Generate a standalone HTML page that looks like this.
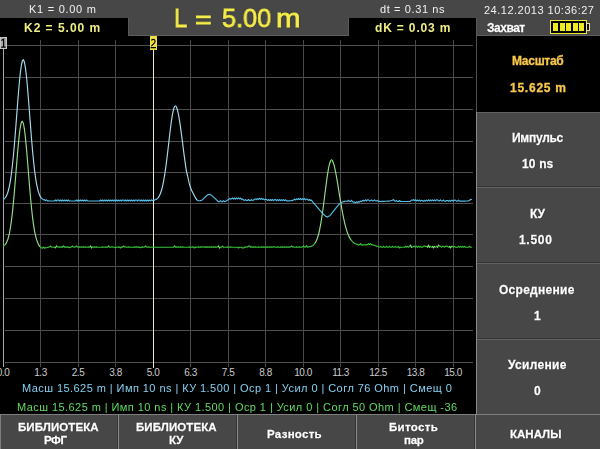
<!DOCTYPE html>
<html><head><meta charset="utf-8"><style>
*{margin:0;padding:0;box-sizing:border-box}
html,body{width:600px;height:449px;overflow:hidden;background:#000}
body{position:relative;font-family:"Liberation Sans",sans-serif}
.t{position:absolute;white-space:pre;will-change:transform}
.abs{position:absolute}
.ax{position:absolute;top:368px;width:60px;text-align:center;font-size:10px;line-height:10px;letter-spacing:-0.5px;color:#cccccc}
</style></head><body>
<div class=abs style="left:0;top:0;width:600px;height:36px;background:#474747"></div>
<div class=abs style="left:0;top:35px;width:600px;height:1px;background:#5e5e5e"></div>
<div class=abs style="left:0;top:18px;width:128px;height:18px;background:#000"></div>
<div class=abs style="left:349px;top:18px;width:127px;height:18px;background:#000"></div>
<div class=abs style="left:128px;top:18px;width:1px;height:18px;background:#585858"></div>
<div class=abs style="left:348px;top:18px;width:1px;height:18px;background:#585858"></div>
<div class=abs style="left:476px;top:18px;width:1px;height:18px;background:#585858"></div>
<div class=abs style="left:476px;top:36px;width:124px;height:378px;background:#474747"></div>
<div class=abs style="left:477px;top:36px;width:123px;height:76px;background:#000"></div>
<div class=abs style="left:476px;top:36px;width:1px;height:76px;background:#505050"></div>
<div class=abs style="left:476px;top:112px;width:1px;height:302px;background:#8a8a8a"></div>
<div class=abs style="left:477px;top:186px;width:123px;height:1px;background:#333"></div>
<div class=abs style="left:477px;top:112px;width:123px;height:1px;background:#626262"></div>
<div class=abs style="left:477px;top:187px;width:123px;height:1px;background:#626262"></div>
<div class=abs style="left:477px;top:262px;width:123px;height:1px;background:#333"></div>
<div class=abs style="left:477px;top:263px;width:123px;height:1px;background:#626262"></div>
<div class=abs style="left:477px;top:338px;width:123px;height:1px;background:#333"></div>
<div class=abs style="left:477px;top:339px;width:123px;height:1px;background:#626262"></div>
<div class=abs style="left:0;top:414px;width:600px;height:35px;background:#474747"></div>
<div class=abs style="left:0;top:414px;width:600px;height:1px;background:#7e7e7e"></div>
<div class=abs style="left:0;top:414px;width:1px;height:35px;background:#7e7e7e"></div>
<div class=abs style="left:117px;top:415px;width:1px;height:34px;background:#333"></div>
<div class=abs style="left:118px;top:414px;width:1px;height:35px;background:#8a8a8a"></div>
<div class=abs style="left:236px;top:415px;width:1px;height:34px;background:#333"></div>
<div class=abs style="left:237px;top:414px;width:1px;height:35px;background:#8a8a8a"></div>
<div class=abs style="left:355px;top:415px;width:1px;height:34px;background:#333"></div>
<div class=abs style="left:356px;top:414px;width:1px;height:35px;background:#8a8a8a"></div>
<div class=abs style="left:474px;top:415px;width:1px;height:34px;background:#333"></div>
<div class=abs style="left:475px;top:414px;width:1px;height:35px;background:#8a8a8a"></div>
<svg class=abs style="left:0;top:0" width="600" height="449">
<rect x="5" y="45" width="468" height="1" fill="#505050"/><rect x="5" y="77" width="468" height="1" fill="#505050"/><rect x="5" y="109" width="468" height="1" fill="#505050"/><rect x="5" y="141" width="468" height="1" fill="#505050"/><rect x="5" y="172" width="468" height="1" fill="#505050"/><rect x="5" y="203" width="468" height="1" fill="#505050"/><rect x="5" y="234" width="468" height="1" fill="#505050"/><rect x="5" y="266" width="468" height="1" fill="#505050"/><rect x="5" y="298" width="468" height="1" fill="#505050"/><rect x="5" y="330" width="468" height="1" fill="#505050"/><rect x="5" y="362" width="468" height="1" fill="#505050"/><rect x="40" y="40" width="1" height="327" fill="#484848"/><rect x="78" y="40" width="1" height="327" fill="#484848"/><rect x="115" y="40" width="1" height="327" fill="#484848"/><rect x="190" y="40" width="1" height="327" fill="#484848"/><rect x="228" y="40" width="1" height="327" fill="#484848"/><rect x="265" y="40" width="1" height="327" fill="#484848"/><rect x="303" y="40" width="1" height="327" fill="#484848"/><rect x="340" y="40" width="1" height="327" fill="#484848"/><rect x="378" y="40" width="1" height="327" fill="#484848"/><rect x="415" y="40" width="1" height="327" fill="#484848"/><rect x="453" y="40" width="1" height="327" fill="#484848"/>
<rect x="3" y="49" width="1" height="318" fill="#a8a8a8"/>
<rect x="153" y="50" width="1" height="318" fill="#f4ecc0"/>
<path d="M3.5,246.0L4.5,245.3M4.5,245.3L5.5,244.2M21.5,122.0L22.5,121.4M39.5,246.1L40.5,247.2M40.5,247.2L41.5,247.9M41.5,247.9L42.5,248.1M42.5,248.1L43.5,247.2M43.5,247.2L44.5,248.2M44.5,248.2L45.5,247.7M45.5,247.7L46.5,247.7M46.5,247.7L47.5,247.5M47.5,247.5L48.5,247.1M48.5,247.1L49.5,247.0M49.5,247.0L50.5,246.1M50.5,246.1L51.5,247.0M51.5,247.0L52.5,247.2M52.5,247.2L53.5,247.0M53.5,247.0L54.5,247.2M54.5,247.2L55.5,247.7M56.5,246.0L57.5,246.9M57.5,246.9L58.5,247.2M58.5,247.2L59.5,246.9M59.5,246.9L60.5,247.2M60.5,247.2L61.5,246.9M61.5,246.9L62.5,247.2M62.5,247.2L63.5,245.8M63.5,245.8L64.5,247.2M64.5,247.2L65.5,246.9M65.5,246.9L66.5,247.2M66.5,247.2L67.5,246.9M67.5,246.9L68.5,247.2M68.5,247.2L69.5,247.7M69.5,247.7L70.5,247.2M70.5,247.2L71.5,246.9M71.5,246.9L72.5,246.0M72.5,246.0L73.5,246.9M73.5,246.9L74.5,247.2M74.5,247.2L75.5,246.9M75.5,246.9L76.5,246.0M76.5,246.0L77.5,246.9M77.5,246.9L78.5,247.2M78.5,247.2L79.5,246.9M79.5,246.9L80.5,247.2M80.5,247.2L81.5,246.9M81.5,246.9L82.5,247.2M82.5,247.2L83.5,246.9M83.5,246.9L84.5,247.2M84.5,247.2L85.5,246.9M85.5,246.9L86.5,247.2M86.5,247.2L87.5,247.2M87.5,247.2L88.5,246.9M88.5,246.9L89.5,247.2M89.5,247.2L90.5,246.0M91.5,247.8L92.5,246.9M92.5,246.9L93.5,247.2M93.5,247.2L94.5,246.9M94.5,246.9L95.5,247.2M95.5,247.2L96.5,246.9M96.5,246.9L97.5,247.2M97.5,247.2L98.5,247.2M98.5,247.2L99.5,247.2M99.5,247.2L100.5,247.2M100.5,247.2L101.5,247.2M101.5,247.2L102.5,246.9M102.5,246.9L103.5,247.2M103.5,247.2L104.5,247.2M104.5,247.2L105.5,246.9M105.5,246.9L106.5,247.2M106.5,247.2L107.5,247.2M107.5,247.2L108.5,245.8M108.5,245.8L109.5,247.2M109.5,247.2L110.5,247.2M110.5,247.2L111.5,246.9M111.5,246.9L112.5,246.9M112.5,246.9L113.5,247.2M113.5,247.2L114.5,247.2M114.5,247.2L115.5,247.8M115.5,247.8L116.5,247.2M116.5,247.2L117.5,247.2M117.5,247.2L118.5,246.9M118.5,246.9L119.5,247.2M119.5,247.2L120.5,248.0M120.5,248.0L121.5,246.9M121.5,246.9L122.5,247.2M122.5,247.2L123.5,246.0M123.5,246.0L124.5,246.9M124.5,246.9L125.5,246.9M125.5,246.9L126.5,247.2M126.5,247.2L127.5,247.2M127.5,247.2L128.5,246.9M128.5,246.9L129.5,247.2M129.5,247.2L130.5,247.2M130.5,247.2L131.5,247.2M131.5,247.2L132.5,247.2M132.5,247.2L133.5,247.2M133.5,247.2L134.5,246.9M134.5,246.9L135.5,247.2M135.5,247.2L136.5,246.9M136.5,246.9L137.5,247.2M137.5,247.2L138.5,246.9M138.5,246.9L139.5,247.2M139.5,247.2L140.5,247.8M140.5,247.8L141.5,247.2M141.5,247.2L142.5,246.9M142.5,246.9L143.5,247.2M143.5,247.2L144.5,246.9M144.5,246.9L145.5,246.0M145.5,246.0L146.5,246.9M146.5,246.9L147.5,247.2M147.5,247.2L148.5,246.9M148.5,246.9L149.5,247.2M149.5,247.2L150.5,247.2M150.5,247.2L151.5,247.2M151.5,247.2L152.5,247.2M152.5,247.2L153.5,247.2M153.5,247.2L154.5,247.2M154.5,247.2L155.5,247.2M155.5,247.2L156.5,247.2M156.5,247.2L157.5,247.2M157.5,247.2L158.5,247.2M158.5,247.2L159.5,247.2M159.5,247.2L160.5,247.2M160.5,247.2L161.5,247.2M161.5,247.2L162.5,247.2M162.5,247.2L163.5,247.2M163.5,247.2L164.5,247.2M164.5,247.2L165.5,247.2M165.5,247.2L166.5,247.2M166.5,247.2L167.5,247.2M167.5,247.2L168.5,247.2M168.5,247.2L169.5,247.2M169.5,247.2L170.5,247.2M170.5,247.2L171.5,247.2M171.5,247.2L172.5,247.2M172.5,247.2L173.5,247.2M173.5,247.2L174.5,245.8M174.5,245.8L175.5,247.2M175.5,247.2L176.5,246.9M176.5,246.9L177.5,247.2M177.5,247.2L178.5,246.9M178.5,246.9L179.5,247.2M179.5,247.2L180.5,246.9M180.5,246.9L181.5,247.2M181.5,247.2L182.5,246.9M182.5,246.9L183.5,247.2M183.5,247.2L184.5,247.2M184.5,247.2L185.5,247.2M185.5,247.2L186.5,247.2M186.5,247.2L187.5,247.2M187.5,247.2L188.5,247.2M188.5,247.2L189.5,246.9M189.5,246.9L190.5,247.2M190.5,247.2L191.5,247.2M191.5,247.2L192.5,246.9M192.5,246.9L193.5,247.2M193.5,247.2L194.5,248.0M194.5,248.0L195.5,246.9M195.5,246.9L196.5,247.2M196.5,247.2L197.5,247.2M197.5,247.2L198.5,246.9M198.5,246.9L199.5,247.2M199.5,247.2L200.5,246.9M200.5,246.9L201.5,247.2M201.5,247.2L202.5,246.9M202.5,246.9L203.5,246.9M203.5,246.9L204.5,247.2M204.5,247.2L205.5,246.9M205.5,246.9L206.5,247.2M206.5,247.2L207.5,246.9M207.5,246.9L208.5,247.2M208.5,247.2L209.5,246.9M209.5,246.9L210.5,247.2M210.5,247.2L211.5,246.9M211.5,246.9L212.5,247.2M212.5,247.2L213.5,246.9M213.5,246.9L214.5,247.2M214.5,247.2L215.5,246.9M215.5,246.9L216.5,247.2M216.5,247.2L217.5,246.9M217.5,246.9L218.5,246.0M219.5,248.0L220.5,247.2M220.5,247.2L221.5,247.2M221.5,247.2L222.5,246.0M222.5,246.0L223.5,247.2M223.5,247.2L224.5,247.2M224.5,247.2L225.5,247.2M225.5,247.2L226.5,247.2M226.5,247.2L227.5,246.9M227.5,246.9L228.5,247.2M228.5,247.2L229.5,247.2M229.5,247.2L230.5,246.9M230.5,246.9L231.5,247.2M231.5,247.2L232.5,247.2M232.5,247.2L233.5,247.2M233.5,247.2L234.5,247.2M234.5,247.2L235.5,247.2M235.5,247.2L236.5,247.2M236.5,247.2L237.5,247.2M237.5,247.2L238.5,248.0M238.5,248.0L239.5,247.2M239.5,247.2L240.5,247.2M240.5,247.2L241.5,247.2M241.5,247.2L242.5,248.0M242.5,248.0L243.5,248.0M243.5,248.0L244.5,247.2M244.5,247.2L245.5,246.9M245.5,246.9L246.5,247.2M246.5,247.2L247.5,246.9M247.5,246.9L248.5,246.0M248.5,246.0L249.5,245.8M249.5,245.8L250.5,247.2M250.5,247.2L251.5,246.9M251.5,246.9L252.5,247.2M252.5,247.2L253.5,246.9M253.5,246.9L254.5,247.2M254.5,247.2L255.5,246.9M255.5,246.9L256.5,247.2M256.5,247.2L257.5,247.2M257.5,247.2L258.5,246.9M258.5,246.9L259.5,247.2M259.5,247.2L260.5,247.2M260.5,247.2L261.5,246.9M261.5,246.9L262.5,247.2M262.5,247.2L263.5,246.9M263.5,246.9L264.5,247.2M264.5,247.2L265.5,246.9M265.5,246.9L266.5,247.2M266.5,247.2L267.5,246.9M267.5,246.9L268.5,247.2M268.5,247.2L269.5,246.9M269.5,246.9L270.5,247.2M270.5,247.2L271.5,246.9M271.5,246.9L272.5,247.2M272.5,247.2L273.5,246.9M273.5,246.9L274.5,246.9M274.5,246.9L275.5,247.2M275.5,247.2L276.5,247.2M276.5,247.2L277.5,246.9M277.5,246.9L278.5,247.2M278.5,247.2L279.5,247.2M279.5,247.2L280.5,246.9M280.5,246.9L281.5,247.2M281.5,247.2L282.5,246.9M282.5,246.9L283.5,247.2M283.5,247.2L284.5,246.9M284.5,246.9L285.5,247.2M285.5,247.2L286.5,246.9M286.5,246.9L287.5,247.2M287.5,247.2L288.5,246.9M288.5,246.9L289.5,247.2M289.5,247.2L290.5,246.9M290.5,246.9L291.5,246.0M291.5,246.0L292.5,246.9M292.5,246.9L293.5,246.9M293.5,246.9L294.5,247.2M294.5,247.2L295.5,247.2M295.5,247.2L296.5,246.9M296.5,246.9L297.5,247.2M297.5,247.2L298.5,247.2M298.5,247.2L299.5,246.9M299.5,246.9L300.5,247.2M300.5,247.2L301.5,247.2M301.5,247.2L302.5,246.9M302.5,246.9L303.5,246.0M303.5,246.0L304.5,247.2M304.5,247.2L305.5,246.9M305.5,246.9L306.5,245.7M306.5,245.7L307.5,247.1M307.5,247.1L308.5,247.0M308.5,247.0L309.5,246.6M309.5,246.6L310.5,246.6M310.5,246.6L311.5,246.3M311.5,246.3L312.5,245.7M312.5,245.7L313.5,244.9M313.5,244.9L314.5,243.9M314.5,243.9L315.5,242.4M330.5,161.0L331.5,159.7M331.5,159.7L332.5,160.8M350.5,239.2L351.5,240.6M351.5,240.6L352.5,241.7M352.5,241.7L353.5,242.6M353.5,242.6L354.5,243.2M354.5,243.2L355.5,243.7M355.5,243.7L356.5,244.1M356.5,244.1L357.5,244.4M357.5,244.4L358.5,245.2M358.5,245.2L359.5,244.7M359.5,244.7L360.5,243.7M360.5,243.7L361.5,244.9M361.5,244.9L362.5,244.9M362.5,244.9L363.5,244.9M363.5,244.9L364.5,244.9M364.5,244.9L365.5,244.9M365.5,244.9L366.5,244.9M366.5,244.9L367.5,244.6M367.5,244.6L368.5,243.7M368.5,243.7L369.5,244.6M369.5,244.6L370.5,243.7M370.5,243.7L371.5,244.6M371.5,244.6L372.5,244.9M372.5,244.9L373.5,245.1M373.5,245.1L374.5,245.5M374.5,245.5L375.5,245.7M375.5,245.7L376.5,246.1M376.5,246.1L377.5,246.3M377.5,246.3L378.5,246.7M378.5,246.7L379.5,247.0M379.5,247.0L380.5,246.5M380.5,246.5L381.5,247.2M381.5,247.2L382.5,247.2M382.5,247.2L383.5,246.4M383.5,246.4L384.5,247.2M384.5,247.2L385.5,247.2M385.5,247.2L386.5,246.4M386.5,246.4L387.5,247.2M387.5,247.2L388.5,247.2M388.5,247.2L389.5,246.4M389.5,246.4L390.5,247.2M390.5,247.2L391.5,247.2M391.5,247.2L392.5,246.4M392.5,246.4L393.5,247.2M393.5,247.2L394.5,247.2M394.5,247.2L395.5,246.4M395.5,246.4L396.5,247.2M396.5,247.2L397.5,247.2M397.5,247.2L398.5,246.4M398.5,246.4L399.5,248.0M399.5,248.0L400.5,247.2M400.5,247.2L401.5,247.2M401.5,247.2L402.5,247.2M402.5,247.2L403.5,247.2M403.5,247.2L404.5,247.2M404.5,247.2L405.5,246.4M405.5,246.4L406.5,247.2M406.5,247.2L407.5,246.4M407.5,246.4L408.5,247.2M408.5,247.2L409.5,246.4M409.5,246.4L410.5,245.2M411.5,247.2L412.5,247.2M412.5,247.2L413.5,246.4M413.5,246.4L414.5,246.4M414.5,246.4L415.5,247.2M415.5,247.2L416.5,246.4M416.5,246.4L417.5,247.2M417.5,247.2L418.5,246.4M418.5,246.4L419.5,247.2M419.5,247.2L420.5,246.4M420.5,246.4L421.5,247.2M421.5,247.2L422.5,247.2M422.5,247.2L423.5,246.4M423.5,246.4L424.5,246.0M424.5,246.0L425.5,246.4M425.5,246.4L426.5,246.4M426.5,246.4L427.5,247.2M429.5,247.2L430.5,246.4M430.5,246.4L431.5,247.2M431.5,247.2L432.5,246.4M434.5,246.4L435.5,247.2M435.5,247.2L436.5,246.4M436.5,246.4L437.5,247.2M438.5,245.2L439.5,246.0M439.5,246.0L440.5,246.4M440.5,246.4L441.5,247.2M441.5,247.2L442.5,246.4M442.5,246.4L443.5,246.4M443.5,246.4L444.5,247.2M444.5,247.2L445.5,246.4M445.5,246.4L446.5,246.0M446.5,246.0L447.5,246.4M447.5,246.4L448.5,247.2M448.5,247.2L449.5,246.4M451.5,246.4L452.5,246.4M452.5,246.4L453.5,247.2M453.5,247.2L454.5,246.4M454.5,246.4L455.5,247.2M455.5,247.2L456.5,247.2M456.5,247.2L457.5,247.2M457.5,247.2L458.5,246.4M458.5,246.4L459.5,247.2M459.5,247.2L460.5,246.4M460.5,246.4L461.5,247.2M461.5,247.2L462.5,246.4M462.5,246.4L463.5,247.2M463.5,247.2L464.5,246.4M464.5,246.4L465.5,247.2M465.5,247.2L466.5,247.2M466.5,247.2L467.5,247.2M467.5,247.2L468.5,247.2M468.5,247.2L469.5,246.4M469.5,246.4L470.5,247.2M470.5,247.2L471.5,247.2" fill="none" stroke="#38c238" stroke-width="1.15" stroke-linecap="round"/>
<path d="M5.5,244.2L6.5,242.6M6.5,242.6L7.5,240.3M7.5,240.3L8.5,237.1M8.5,237.1L9.5,232.8M9.5,232.8L10.5,227.2M10.5,227.2L11.5,220.1M11.5,220.1L12.5,211.6M12.5,211.6L13.5,201.6M13.5,201.6L14.5,190.4M14.5,190.4L15.5,178.3M15.5,178.3L16.5,165.8M16.5,165.8L17.5,153.6M17.5,153.6L18.5,142.4M18.5,142.4L19.5,133.0M19.5,133.0L20.5,126.0M20.5,126.0L21.5,122.0M22.5,121.4L23.5,124.0M23.5,124.0L24.5,129.8M24.5,129.8L25.5,138.4M25.5,138.4L26.5,148.9M26.5,148.9L27.5,160.8M27.5,160.8L28.5,173.3M28.5,173.3L29.5,185.6M29.5,185.6L30.5,197.3M30.5,197.3L31.5,207.8M31.5,207.8L32.5,216.9M32.5,216.9L33.5,224.6M33.5,224.6L34.5,230.8M34.5,230.8L35.5,235.7M35.5,235.7L36.5,239.4M36.5,239.4L37.5,242.3M37.5,242.3L38.5,244.5M38.5,244.5L39.5,246.1M55.5,247.7L56.5,246.0M90.5,246.0L91.5,247.8M218.5,246.0L219.5,248.0M315.5,242.4L316.5,240.4M316.5,240.4L317.5,237.8M317.5,237.8L318.5,234.5M318.5,234.5L319.5,230.3M319.5,230.3L320.5,225.2M320.5,225.2L321.5,219.2M321.5,219.2L322.5,212.5M322.5,212.5L323.5,205.1M323.5,205.1L324.5,197.3M324.5,197.3L325.5,189.3M325.5,189.3L326.5,181.6M326.5,181.6L327.5,174.6M327.5,174.6L328.5,168.5M328.5,168.5L329.5,163.9M329.5,163.9L330.5,161.0M332.5,160.8L333.5,163.2M333.5,163.2L334.5,166.9M334.5,166.9L335.5,171.5M335.5,171.5L336.5,176.9M336.5,176.9L337.5,182.7M337.5,182.7L338.5,188.9M338.5,188.9L339.5,195.1M339.5,195.1L340.5,201.2M340.5,201.2L341.5,207.1M341.5,207.1L342.5,212.6M342.5,212.6L343.5,217.7M343.5,217.7L344.5,222.3M344.5,222.3L345.5,226.3M345.5,226.3L346.5,229.9M346.5,229.9L347.5,232.9M347.5,232.9L348.5,235.4M348.5,235.4L349.5,237.5M349.5,237.5L350.5,239.2M410.5,245.2L411.5,247.2M427.5,247.2L428.5,245.2M428.5,245.2L429.5,247.2M432.5,246.4L433.5,248.0M433.5,248.0L434.5,246.4M437.5,247.2L438.5,245.2M449.5,246.4L450.5,248.0M450.5,248.0L451.5,246.4" fill="none" stroke="#94de88" stroke-width="1.15" stroke-linecap="round"/>
<path d="M3.5,199.4L4.5,198.7M4.5,198.7L5.5,197.5M22.5,60.5L23.5,59.8M40.5,196.9L41.5,198.3M41.5,198.3L42.5,199.1M42.5,199.1L43.5,199.9M43.5,199.9L44.5,199.7M44.5,199.7L45.5,200.6M45.5,200.6L46.5,199.9M46.5,199.9L47.5,200.9M47.5,200.9L48.5,200.9M48.5,200.9L49.5,201.0M49.5,201.0L50.5,201.0M50.5,201.0L51.5,201.0M51.5,201.0L52.5,201.0M52.5,201.0L53.5,201.0M53.5,201.0L54.5,201.0M54.5,201.0L55.5,200.0M55.5,200.0L56.5,201.0M56.5,201.0L57.5,200.0M57.5,200.0L58.5,200.0M58.5,200.0L59.5,201.0M59.5,201.0L60.5,200.0M60.5,200.0L61.5,201.0M61.5,201.0L62.5,200.0M62.5,200.0L63.5,201.0M63.5,201.0L64.5,200.0M64.5,200.0L65.5,201.0M65.5,201.0L66.5,200.0M66.5,200.0L67.5,201.0M67.5,201.0L68.5,200.0M68.5,200.0L69.5,201.0M69.5,201.0L70.5,201.0M70.5,201.0L71.5,201.0M71.5,201.0L72.5,201.0M72.5,201.0L73.5,201.0M73.5,201.0L74.5,201.0M74.5,201.0L75.5,201.0M75.5,201.0L76.5,200.0M76.5,200.0L77.5,201.0M77.5,201.0L78.5,200.0M78.5,200.0L79.5,201.0M79.5,201.0L80.5,200.0M80.5,200.0L81.5,201.0M81.5,201.0L82.5,200.0M82.5,200.0L83.5,201.0M83.5,201.0L84.5,200.0M84.5,200.0L85.5,201.0M85.5,201.0L86.5,200.0M86.5,200.0L87.5,201.0M87.5,201.0L88.5,201.0M88.5,201.0L89.5,201.0M89.5,201.0L90.5,201.0M90.5,201.0L91.5,201.0M91.5,201.0L92.5,201.0M92.5,201.0L93.5,201.0M93.5,201.0L94.5,201.0M94.5,201.0L95.5,201.0M95.5,201.0L96.5,201.0M96.5,201.0L97.5,201.0M97.5,201.0L98.5,201.0M98.5,201.0L99.5,201.0M99.5,201.0L100.5,200.0M100.5,200.0L101.5,201.0M101.5,201.0L102.5,200.0M102.5,200.0L103.5,201.0M103.5,201.0L104.5,200.0M104.5,200.0L105.5,201.0M105.5,201.0L106.5,200.0M106.5,200.0L107.5,201.0M107.5,201.0L108.5,200.0M108.5,200.0L109.5,201.0M109.5,201.0L110.5,200.0M110.5,200.0L111.5,201.0M111.5,201.0L112.5,200.0M112.5,200.0L113.5,201.0M113.5,201.0L114.5,200.0M114.5,200.0L115.5,201.0M115.5,201.0L116.5,200.0M116.5,200.0L117.5,201.0M117.5,201.0L118.5,200.0M118.5,200.0L119.5,201.0M119.5,201.0L120.5,200.0M120.5,200.0L121.5,201.0M121.5,201.0L122.5,200.0M122.5,200.0L123.5,200.0M123.5,200.0L124.5,201.0M124.5,201.0L125.5,200.0M125.5,200.0L126.5,201.0M126.5,201.0L127.5,200.0M127.5,200.0L128.5,201.0M128.5,201.0L129.5,200.0M129.5,200.0L130.5,201.0M130.5,201.0L131.5,200.0M131.5,200.0L132.5,201.0M132.5,201.0L133.5,200.0M133.5,200.0L134.5,201.0M134.5,201.0L135.5,200.0M135.5,200.0L136.5,200.0M136.5,200.0L137.5,201.0M137.5,201.0L138.5,200.0M138.5,200.0L139.5,200.0M139.5,200.0L140.5,201.0M140.5,201.0L141.5,200.0M141.5,200.0L142.5,201.0M142.5,201.0L143.5,200.0M143.5,200.0L144.5,201.0M144.5,201.0L145.5,200.0M145.5,200.0L146.5,201.0M146.5,201.0L147.5,200.0M147.5,200.0L148.5,201.0M148.5,201.0L149.5,200.0M149.5,200.0L150.5,200.9M150.5,200.9L151.5,199.9M151.5,199.9L152.5,200.7M152.5,200.7L153.5,199.8M153.5,199.8L154.5,200.3M154.5,200.3L155.5,199.4M155.5,199.4L156.5,199.3M156.5,199.3L157.5,198.5M157.5,198.5L158.5,197.2M174.5,106.6L175.5,105.9M175.5,105.9L176.5,107.2M196.5,199.4L197.5,200.5M197.5,200.5L198.5,200.7M198.5,200.7L199.5,200.7M199.5,200.7L200.5,200.6M200.5,200.6L201.5,200.4M201.5,200.4L202.5,199.6M202.5,199.6L203.5,198.6M203.5,198.6L204.5,197.6M204.5,197.6L205.5,196.7M205.5,196.7L206.5,195.8M206.5,195.8L207.5,195.1M207.5,195.1L208.5,194.6M208.5,194.6L209.5,194.3M209.5,194.3L210.5,194.8M210.5,194.8L211.5,195.3M211.5,195.3L212.5,196.1M212.5,196.1L213.5,197.1M213.5,197.1L214.5,197.9M214.5,197.9L215.5,198.9M215.5,198.9L216.5,199.9M216.5,199.9L217.5,200.8M217.5,200.8L218.5,201.7M218.5,201.7L219.5,201.7M219.5,201.7L220.5,200.7M220.5,200.7L221.5,201.7M221.5,201.7L222.5,201.7M222.5,201.7L223.5,200.7M223.5,200.7L224.5,201.7M224.5,201.7L225.5,201.4M225.5,201.4L226.5,200.7M226.5,200.7L227.5,200.1M227.5,200.1L228.5,199.6M228.5,199.6L229.5,198.6M229.5,198.6L230.5,199.1M230.5,199.1L231.5,198.8M231.5,198.8L232.5,198.0M232.5,198.0L233.5,199.0M233.5,199.0L234.5,198.2M234.5,198.2L235.5,199.2M235.5,199.2L236.5,198.2M236.5,198.2L237.5,198.9M237.5,198.9L238.5,197.9M238.5,197.9L239.5,198.8M239.5,198.8L240.5,198.2M240.5,198.2L241.5,199.3M241.5,199.3L242.5,199.0M242.5,199.0L243.5,200.0M243.5,200.0L244.5,200.3M244.5,200.3L245.5,199.6M245.5,199.6L246.5,200.5M246.5,200.5L247.5,200.5M247.5,200.5L248.5,199.5M248.5,199.5L249.5,200.5M249.5,200.5L250.5,200.5M250.5,200.5L251.5,199.6M251.5,199.6L252.5,200.4M252.5,200.4L253.5,200.2M253.5,200.2L254.5,199.2M254.5,199.2L255.5,199.0M255.5,199.0L256.5,199.6M256.5,199.6L257.5,198.6M257.5,198.6L258.5,199.3M258.5,199.3L259.5,198.3M259.5,198.3L260.5,199.3M260.5,199.3L261.5,198.4M261.5,198.4L262.5,199.4M262.5,199.4L263.5,198.8M263.5,198.8L264.5,199.8M264.5,199.8L265.5,199.2M265.5,199.2L266.5,199.4M266.5,199.4L267.5,200.4M267.5,200.4L268.5,199.6M268.5,199.6L269.5,200.5M269.5,200.5L270.5,199.5M270.5,199.5L271.5,200.5M271.5,200.5L272.5,199.6M272.5,199.6L273.5,200.6M273.5,200.6L274.5,199.6M274.5,199.6L275.5,199.6M275.5,199.6L276.5,200.6M276.5,200.6L277.5,199.6M277.5,199.6L278.5,200.6M278.5,200.6L279.5,199.7M279.5,199.7L280.5,200.7M280.5,200.7L281.5,199.7M281.5,199.7L282.5,200.7M282.5,200.7L283.5,199.7M283.5,199.7L284.5,200.7M284.5,200.7L285.5,199.8M285.5,199.8L286.5,200.8M286.5,200.8L287.5,200.8M287.5,200.8L288.5,200.8M288.5,200.8L289.5,200.8M289.5,200.8L290.5,200.7M290.5,200.7L291.5,200.6M291.5,200.6L292.5,200.4M292.5,200.4L293.5,200.2M293.5,200.2L294.5,199.2M294.5,199.2L295.5,199.9M295.5,199.9L296.5,198.9M296.5,198.9L297.5,199.6M297.5,199.6L298.5,198.5M298.5,198.5L299.5,199.5M299.5,199.5L300.5,198.6M300.5,198.6L301.5,199.6M301.5,199.6L302.5,198.7M302.5,198.7L303.5,199.7M303.5,199.7L304.5,198.7M304.5,198.7L305.5,199.8M305.5,199.8L306.5,199.1M306.5,199.1L307.5,199.3M307.5,199.3L308.5,200.3M308.5,200.3L309.5,199.5M309.5,199.5L310.5,200.5M310.5,200.5L311.5,200.1M311.5,200.1L312.5,201.7M312.5,201.7L313.5,202.8M313.5,202.8L314.5,204.0M314.5,204.0L315.5,205.2M315.5,205.2L316.5,206.3M316.5,206.3L317.5,207.5M317.5,207.5L318.5,208.6M318.5,208.6L319.5,209.8M319.5,209.8L320.5,210.9M320.5,210.9L321.5,212.1M321.5,212.1L322.5,213.3M322.5,213.3L323.5,214.2M323.5,214.2L324.5,215.2M324.5,215.2L325.5,216.2M325.5,216.2L326.5,216.6M326.5,216.6L327.5,217.1M327.5,217.1L328.5,216.2M328.5,216.2L329.5,216.0M329.5,216.0L330.5,214.8M330.5,214.8L331.5,213.6M331.5,213.6L332.5,212.4M332.5,212.4L333.5,211.1M333.5,211.1L334.5,209.9M334.5,209.9L335.5,208.7M335.5,208.7L336.5,207.4M336.5,207.4L337.5,206.2M337.5,206.2L338.5,205.0M338.5,205.0L339.5,203.9M339.5,203.9L340.5,203.3M340.5,203.3L341.5,202.6M341.5,202.6L342.5,202.0M342.5,202.0L343.5,201.7M343.5,201.7L344.5,201.4M344.5,201.4L345.5,201.2M345.5,201.2L346.5,201.2M346.5,201.2L347.5,201.2M347.5,201.2L348.5,200.3M348.5,200.3L349.5,201.3M349.5,201.3L350.5,201.3M350.5,201.3L351.5,200.4M351.5,200.4L352.5,201.6M352.5,201.6L353.5,202.2M353.5,202.2L354.5,202.1M354.5,202.1L355.5,202.9M355.5,202.9L356.5,201.9M356.5,201.9L357.5,202.6M357.5,202.6L358.5,201.6M358.5,201.6L359.5,202.1M359.5,202.1L360.5,201.1M360.5,201.1L361.5,201.6M361.5,201.6L362.5,200.6M362.5,200.6L363.5,200.4M363.5,200.4L364.5,200.9M364.5,200.9L365.5,199.9M365.5,199.9L366.5,200.8M366.5,200.8L367.5,199.8M367.5,199.8L368.5,199.8M368.5,199.8L369.5,200.8M369.5,200.8L370.5,200.8M370.5,200.8L371.5,199.8M371.5,199.8L372.5,200.8M372.5,200.8L373.5,200.8M373.5,200.8L374.5,199.8M374.5,199.8L375.5,200.9M375.5,200.9L376.5,201.0M376.5,201.0L377.5,200.3M377.5,200.3L378.5,201.3M378.5,201.3L379.5,201.4M379.5,201.4L380.5,201.5M380.5,201.5L381.5,201.4M381.5,201.4L382.5,201.4M382.5,201.4L383.5,201.3M383.5,201.3L384.5,201.3M384.5,201.3L385.5,201.2M385.5,201.2L386.5,201.2M386.5,201.2L387.5,201.1M387.5,201.1L388.5,201.1M388.5,201.1L389.5,201.0M389.5,201.0L390.5,200.8M390.5,200.8L391.5,200.5M391.5,200.5L392.5,200.2M392.5,200.2L393.5,199.5M393.5,199.5L394.5,200.8M394.5,200.8L395.5,201.2M395.5,201.2L396.5,200.6M396.5,200.6L397.5,201.5M397.5,201.5L398.5,201.5M398.5,201.5L399.5,200.5M399.5,200.5L400.5,201.5M400.5,201.5L401.5,201.5M401.5,201.5L402.5,201.5M402.5,201.5L403.5,201.5M403.5,201.5L404.5,201.5M404.5,201.5L405.5,201.5M405.5,201.5L406.5,201.5M406.5,201.5L407.5,201.5M407.5,201.5L408.5,201.5M408.5,201.5L409.5,201.5M409.5,201.5L410.5,201.2M410.5,201.2L411.5,200.0M411.5,200.0L412.5,200.4M412.5,200.4L413.5,199.6M413.5,199.6L414.5,200.6M414.5,200.6L415.5,199.8M415.5,199.8L416.5,200.8M416.5,200.8L417.5,200.0M417.5,200.0L418.5,201.0M418.5,201.0L419.5,200.2M419.5,200.2L420.5,201.2M420.5,201.2L421.5,200.4M421.5,200.4L422.5,200.5M422.5,200.5L423.5,201.4M423.5,201.4L424.5,200.4M424.5,200.4L425.5,201.2M425.5,201.2L426.5,200.2M426.5,200.2L427.5,200.9M427.5,200.9L428.5,199.8M428.5,199.8L429.5,200.8M429.5,200.8L430.5,199.8M430.5,199.8L431.5,200.8M431.5,200.8L432.5,199.8M432.5,199.8L433.5,200.8M433.5,200.8L434.5,199.8M434.5,199.8L435.5,200.8M435.5,200.8L436.5,199.8M436.5,199.8L437.5,199.8M437.5,199.8L438.5,200.8M438.5,200.8L439.5,200.8M439.5,200.8L440.5,199.9M440.5,199.9L441.5,200.9M441.5,200.9L442.5,201.0M442.5,201.0L443.5,200.2M443.5,200.2L444.5,201.2M444.5,201.2L445.5,201.3M445.5,201.3L446.5,200.5M446.5,200.5L447.5,200.5M447.5,200.5L448.5,201.4M448.5,201.4L449.5,200.4M449.5,200.4L450.5,201.3M450.5,201.3L451.5,200.3M451.5,200.3L452.5,200.3M452.5,200.3L453.5,201.2M453.5,201.2L454.5,200.2M454.5,200.2L455.5,200.2M455.5,200.2L456.5,201.2M456.5,201.2L457.5,201.2M457.5,201.2L458.5,200.2M458.5,200.2L459.5,201.1M459.5,201.1L460.5,201.1M460.5,201.1L461.5,201.1M461.5,201.1L462.5,201.1M462.5,201.1L463.5,201.1M463.5,201.1L464.5,201.1M464.5,201.1L465.5,201.0M465.5,201.0L466.5,201.0M466.5,201.0L467.5,201.0M467.5,201.0L468.5,200.8M468.5,200.8L469.5,200.4M469.5,200.4L470.5,199.4M470.5,199.4L471.5,199.5" fill="none" stroke="#56bce6" stroke-width="1.15" stroke-linecap="round"/>
<path d="M5.5,197.5L6.5,195.8M6.5,195.8L7.5,193.4M7.5,193.4L8.5,190.0M8.5,190.0L9.5,185.7M9.5,185.7L10.5,180.1M10.5,180.1L11.5,173.0M11.5,173.0L12.5,164.5M12.5,164.5L13.5,154.6M13.5,154.6L14.5,143.3M14.5,143.3L15.5,130.9M15.5,130.9L16.5,117.9M16.5,117.9L17.5,104.8M17.5,104.8L18.5,92.2M18.5,92.2L19.5,80.8M19.5,80.8L20.5,71.4M20.5,71.4L21.5,64.5M21.5,64.5L22.5,60.5M23.5,59.8L24.5,62.5M24.5,62.5L25.5,68.3M25.5,68.3L26.5,76.8M26.5,76.8L27.5,87.5M27.5,87.5L28.5,99.7M28.5,99.7L29.5,112.7M29.5,112.7L30.5,125.8M30.5,125.8L31.5,138.5M31.5,138.5L32.5,150.2M32.5,150.2L33.5,160.7M33.5,160.7L34.5,169.8M34.5,169.8L35.5,177.4M35.5,177.4L36.5,183.6M36.5,183.6L37.5,188.4M37.5,188.4L38.5,192.1M38.5,192.1L39.5,194.9M39.5,194.9L40.5,196.9M158.5,197.2L159.5,195.5M159.5,195.5L160.5,193.3M160.5,193.3L161.5,190.3M161.5,190.3L162.5,186.5M162.5,186.5L163.5,181.7M163.5,181.7L164.5,176.0M164.5,176.0L165.5,169.4M165.5,169.4L166.5,161.9M166.5,161.9L167.5,153.7M167.5,153.7L168.5,145.0M168.5,145.0L169.5,136.3M169.5,136.3L170.5,128.0M170.5,128.0L171.5,120.4M171.5,120.4L172.5,114.1M172.5,114.1L173.5,109.4M173.5,109.4L174.5,106.6M176.5,107.2L177.5,110.1M177.5,110.1L178.5,114.6M178.5,114.6L179.5,120.4M179.5,120.4L180.5,127.2M180.5,127.2L181.5,134.6M181.5,134.6L182.5,142.4M182.5,142.4L183.5,150.3M183.5,150.3L184.5,157.9M184.5,157.9L185.5,165.1M185.5,165.1L186.5,171.6M186.5,171.6L187.5,175.5M187.5,175.5L188.5,180.0M188.5,180.0L189.5,184.5M189.5,184.5L190.5,187.5M190.5,187.5L191.5,190.2M191.5,190.2L192.5,192.1M192.5,192.1L193.5,194.1M193.5,194.1L194.5,196.0M194.5,196.0L195.5,197.7M195.5,197.7L196.5,199.4" fill="none" stroke="#a8dcf0" stroke-width="1.15" stroke-linecap="round"/>
<rect x="0.5" y="37.5" width="6" height="11" fill="#a8a8a8" stroke="#c4c4c4" stroke-width="1"/>
<path d="M1.3,40.6 L3.6,39.2 L3.6,47 M1.2,47.2 L5.6,47.2" fill="none" stroke="#000" stroke-width="1.2"/>
<rect x="150" y="36" width="7" height="14" fill="#eee040"/>
<path d="M151.3,40.4 Q153,38.8 154.6,39.8 Q155.6,41 154.6,42.6 L151.4,46.2 M150.6,47.6 L156,47.6" fill="none" stroke="#000" stroke-width="1.1"/>
<rect x="550.5" y="20.5" width="36" height="13" fill="#000" stroke="#f0e830" stroke-width="1"/>
<rect x="586.5" y="23.5" width="3" height="7" fill="#111" stroke="#e8e0a0" stroke-width="1"/>
<rect x="553" y="23" width="5" height="8" fill="#f0e820"/>
<rect x="560" y="23" width="5" height="8" fill="#f0e820"/>
<rect x="566" y="23" width="5" height="8" fill="#f0e820"/>
<rect x="573" y="23" width="5" height="8" fill="#f0e820"/>
<rect x="579" y="23" width="5" height="8" fill="#f0e820"/>
</svg>
<div class=ax style="left:-27.0px">0.0</div><div class=ax style="left:10.5px">1.3</div><div class=ax style="left:48.0px">2.5</div><div class=ax style="left:85.5px">3.8</div><div class=ax style="left:123.0px">5.0</div><div class=ax style="left:160.5px">6.3</div><div class=ax style="left:198.0px">7.5</div><div class=ax style="left:235.5px">8.8</div><div class=ax style="left:273.0px">10.0</div><div class=ax style="left:310.5px">11.3</div><div class=ax style="left:348.0px">12.5</div><div class=ax style="left:385.5px">13.8</div><div class=ax style="left:423.0px">15.0</div>
<div class=t style="left:28.7px;top:3.7px;font-size:11px;line-height:11px;letter-spacing:0.73px;color:#f2f2f2">K1 = 0.00 m</div>
<div class=t style="left:23.7px;top:21.8px;font-size:12px;line-height:12px;font-weight:bold;letter-spacing:0.98px;color:#eeee84">K2 = 5.00 m</div>
<div class=t style="-webkit-text-stroke:0.8px #f4ec4c;text-shadow:0 0 1.5px #000,0 0 1px #000;left:173.67px;top:5.0px;font-size:26px;line-height:26px;transform:scaleX(0.9167);transform-origin:0 0;color:#f4ec4c">L</div>
<div class=t style="-webkit-text-stroke:0.8px #f4ec4c;text-shadow:0 0 1.5px #000,0 0 1px #000;left:195.4px;top:5.5px;font-size:26px;line-height:26px;transform:scaleX(1.1);transform-origin:0 0;color:#f4ec4c">=</div>
<div class=t style="-webkit-text-stroke:0.8px #f4ec4c;text-shadow:0 0 1.5px #000,0 0 1px #000;left:222.03px;top:5.0px;font-size:26px;line-height:26px;transform:scaleX(0.9694);transform-origin:0 0;color:#f4ec4c">5.00</div>
<div class=t style="-webkit-text-stroke:0.8px #f4ec4c;text-shadow:0 0 1.5px #000,0 0 1px #000;left:276.37px;top:5.0px;font-size:26px;line-height:26px;transform:scaleX(1.1316);transform-origin:0 0;color:#f4ec4c">m</div>
<div class=t style="left:380.2px;top:3.7px;font-size:11px;line-height:11px;letter-spacing:0.618px;color:#f2f2f2">dt = 0.31 ns</div>
<div class=t style="left:374.8px;top:21.8px;font-size:12px;line-height:12px;font-weight:bold;letter-spacing:0.84px;color:#eeee84">dK = 0.03 m</div>
<div class=t style="left:483.6px;top:4.6px;font-size:11px;line-height:11px;letter-spacing:0.5px;color:#f0f0f0">24.12.2013 10:36:27</div>
<div class=t style="-webkit-text-stroke:0.3px #ffffff;text-shadow:0 0 1px #000,0 0 1px #000;left:487.0px;top:22px;font-size:12px;line-height:12px;font-weight:bold;letter-spacing:-0.48px;color:#ffffff">Захват</div>
<div class=t style="-webkit-text-stroke:0.3px #f8c84c;text-shadow:0 0 1px #000,0 0 1px #000;left:511.7px;top:55.3px;font-size:12px;line-height:12px;font-weight:bold;letter-spacing:-0.283px;color:#f8c84c">Масштаб</div>
<div class=t style="-webkit-text-stroke:0.3px #f8c84c;text-shadow:0 0 1px #000,0 0 1px #000;left:510.0px;top:81.7px;font-size:12px;line-height:12px;font-weight:bold;letter-spacing:0.757px;color:#f8c84c">15.625 m</div>
<div class=t style="-webkit-text-stroke:0.3px #ffffff;text-shadow:0 0 1px #000,0 0 1px #000;left:511.7px;top:131.7px;font-size:12px;line-height:12px;font-weight:bold;letter-spacing:-0.283px;color:#ffffff">Импульс</div>
<div class=t style="-webkit-text-stroke:0.3px #ffffff;text-shadow:0 0 1px #000,0 0 1px #000;left:521.7px;top:157.5px;font-size:12px;line-height:12px;font-weight:bold;letter-spacing:0.15px;color:#ffffff">10 ns</div>
<div class=t style="-webkit-text-stroke:0.3px #ffffff;text-shadow:0 0 1px #000,0 0 1px #000;left:530.0px;top:207.5px;font-size:12px;line-height:12px;font-weight:bold;color:#ffffff">КУ</div>
<div class=t style="-webkit-text-stroke:0.3px #ffffff;text-shadow:0 0 1px #000,0 0 1px #000;left:519.2px;top:233.7px;font-size:12px;line-height:12px;font-weight:bold;letter-spacing:0.7px;color:#ffffff">1.500</div>
<div class=t style="-webkit-text-stroke:0.3px #ffffff;text-shadow:0 0 1px #000,0 0 1px #000;left:499.2px;top:283.7px;font-size:12px;line-height:12px;font-weight:bold;letter-spacing:0.278px;color:#ffffff">Осреднение</div>
<div class=t style="-webkit-text-stroke:0.3px #ffffff;text-shadow:0 0 1px #000,0 0 1px #000;left:534.0px;top:309.7px;font-size:12px;line-height:12px;font-weight:bold;color:#ffffff">1</div>
<div class=t style="-webkit-text-stroke:0.3px #ffffff;text-shadow:0 0 1px #000,0 0 1px #000;left:508.0px;top:358.7px;font-size:12px;line-height:12px;font-weight:bold;letter-spacing:0.329px;color:#ffffff">Усиление</div>
<div class=t style="-webkit-text-stroke:0.3px #ffffff;text-shadow:0 0 1px #000,0 0 1px #000;left:534.0px;top:384.7px;font-size:12px;line-height:12px;font-weight:bold;color:#ffffff">0</div>
<div class=t style="left:22.3px;top:383.4px;font-size:11px;line-height:11px;letter-spacing:0.436px;color:#84d0f2">Масш 15.625 m | Имп 10 ns | КУ 1.500 | Оср 1 | Усил 0 | Согл 76 Ohm | Смещ 0</div>
<div class=t style="left:16.7px;top:402px;font-size:11px;line-height:11px;letter-spacing:0.432px;color:#62da62">Масш 15.625 m | Имп 10 ns | КУ 1.500 | Оср 1 | Усил 0 | Согл 50 Ohm | Смещ -36</div>
<div class=t style="-webkit-text-stroke:0.3px #ffffff;text-shadow:0 0 1px #000,0 0 1px #000;left:17.6px;top:422px;font-size:11.5px;line-height:11.5px;font-weight:bold;letter-spacing:0.089px;color:#ffffff">БИБЛИОТЕКА</div>
<div class=t style="-webkit-text-stroke:0.3px #ffffff;text-shadow:0 0 1px #000,0 0 1px #000;left:44.4px;top:434.6px;font-size:11.5px;line-height:11.5px;font-weight:bold;letter-spacing:-0.4px;color:#ffffff">РФГ</div>
<div class=t style="-webkit-text-stroke:0.3px #ffffff;text-shadow:0 0 1px #000,0 0 1px #000;left:135.6px;top:422px;font-size:11.5px;line-height:11.5px;font-weight:bold;letter-spacing:0.089px;color:#ffffff">БИБЛИОТЕКА</div>
<div class=t style="-webkit-text-stroke:0.3px #ffffff;text-shadow:0 0 1px #000,0 0 1px #000;left:169.0px;top:434.6px;font-size:11.5px;line-height:11.5px;font-weight:bold;color:#ffffff">КУ</div>
<div class=t style="-webkit-text-stroke:0.3px #ffffff;text-shadow:0 0 1px #000,0 0 1px #000;left:267.4px;top:428.6px;font-size:11.5px;line-height:11.5px;font-weight:bold;letter-spacing:0.286px;color:#ffffff">Разность</div>
<div class=t style="-webkit-text-stroke:0.3px #ffffff;text-shadow:0 0 1px #000,0 0 1px #000;left:389.0px;top:422px;font-size:11.5px;line-height:11.5px;font-weight:bold;letter-spacing:0.333px;color:#ffffff">Битость</div>
<div class=t style="-webkit-text-stroke:0.3px #ffffff;text-shadow:0 0 1px #000,0 0 1px #000;left:403.6px;top:435px;font-size:11.5px;line-height:11.5px;font-weight:bold;letter-spacing:-0.3px;color:#ffffff">пар</div>
<div class=t style="-webkit-text-stroke:0.3px #ffffff;text-shadow:0 0 1px #000,0 0 1px #000;left:510.0px;top:428.8px;font-size:11.5px;line-height:11.5px;font-weight:bold;color:#ffffff">КАНАЛЫ</div>
</body></html>
